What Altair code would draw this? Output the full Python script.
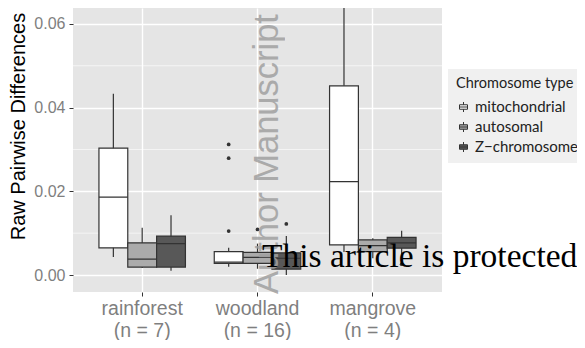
import altair as alt
import pandas as pd

categories = ["rainforest", "woodland", "mangrove"]
n_labels = ["(n = 7)", "(n = 16)", "(n = 4)"]
groups = ["mitochondrial", "autosomal", "Z\u2212chromosome"]
fills = ["#ffffff", "#ababab", "#585858"]

box_cat = ["rainforest"] * 3 + ["woodland"] * 3 + ["mangrove"] * 3
box_grp = groups * 3
whisk_lo = [0.0043, 0.0017, 0.0010, 0.0020, 0.0015, 0.0000, 0.0055, 0.0040, 0.0050]
q1 = [0.0065, 0.0019, 0.0019, 0.0028, 0.0028, 0.0014, 0.0072, 0.0056, 0.0064]
med = [0.0186, 0.0038, 0.0075, 0.0031, 0.0042, 0.0040, 0.0223, 0.0070, 0.0077]
q3 = [0.0303, 0.0077, 0.0093, 0.0056, 0.0054, 0.0053, 0.0452, 0.0084, 0.0090]
whisk_hi = [0.0433, 0.0113, 0.0143, 0.0065, 0.0075, 0.0093, 0.0700, 0.0088, 0.0106]

out_cat = ["woodland", "woodland", "woodland", "woodland", "woodland", "mangrove"]
out_grp = ["mitochondrial", "mitochondrial", "mitochondrial", "autosomal", "Z\u2212chromosome", "Z\u2212chromosome"]
out_val = [0.0312, 0.0279, 0.0105, 0.0109, 0.0122, 0.0026]

minor_ticks = [0.01, 0.03, 0.05]
major_ticks = [0.0, 0.02, 0.04, 0.06]

watermark = ["Author Manuscript"]
banner = ["This article is protected"]

lab = {c: c + "\n" + n for c, n in zip(categories, n_labels)}
x_order = [lab[c] for c in categories]

boxes = pd.DataFrame({
    "cat": [lab[c] for c in box_cat], "grp": box_grp,
    "lo": whisk_lo, "q1": q1, "med": med, "q3": q3, "hi": whisk_hi,
})
outs = pd.DataFrame({"cat": [lab[c] for c in out_cat], "grp": out_grp, "v": out_val})

ydom = [-0.00406, 0.0638]
yscale = alt.Scale(domain=ydom, nice=False, zero=False)
xscale = alt.Scale(type="band", domain=x_order, paddingInner=0.25, paddingOuter=0.225)
xoscale = alt.Scale(domain=groups, paddingInner=0, paddingOuter=0)

X = alt.X("cat:N", scale=xscale, sort=x_order, title=None,
          axis=alt.Axis(labelExpr="split(datum.label, '\\n')", labelAngle=0,
                        labelColor="#7f7f7f", labelFont="Liberation Sans", labelFontSize=19.5,
                        labelLineHeight=22, labelPadding=3, tickColor="#333333", tickSize=4,
                        domain=False, grid=True, gridColor="white", gridWidth=1.4))
XO = alt.XOffset("grp:N", scale=xoscale, sort=groups)

minor = alt.Chart(pd.DataFrame({"t": minor_ticks})).mark_rule(color="white", strokeWidth=0.6).encode(
    y=alt.Y("t:Q", scale=yscale)
)

whisk = alt.Chart(boxes).mark_rule(color="#333333", strokeWidth=1.2, clip=True).encode(
    x=X, xOffset=XO,
    y=alt.Y("lo:Q", scale=yscale,
            axis=alt.Axis(values=major_ticks, format=".2f", title="Raw Pairwise Differences",
                          labelColor="#7f7f7f", labelFont="Liberation Sans", labelFontSize=16,
                          labelPadding=4, tickColor="#333333", tickSize=4, domain=False,
                          grid=True, gridColor="white", gridWidth=1.4,
                          titleFont="Liberation Sans", titleFontSize=20, titleFontWeight="normal",
                          titleColor="black", titleAngle=270, titleX=-49, titleY=118,
                          titleAlign="center", titleBaseline="alphabetic")),
    y2="hi:Q",
)

box = alt.Chart(boxes).mark_bar(stroke="#333333", strokeWidth=1.2, clip=True).encode(
    x=X, xOffset=XO,
    y=alt.Y("q1:Q", scale=yscale), y2="q3:Q",
    fill=alt.Fill("grp:N", scale=alt.Scale(domain=groups, range=fills), sort=groups,
                  legend=alt.Legend(title="Chromosome type", orient="none", legendX=375, legendY=61,
                                    padding=8, fillColor="#f0f0f0", titleFont="Lato",
                                    titleFontSize=14.5, titleFontWeight="normal", titleColor="#222222",
                                    titlePadding=8, labelFont="Lato", labelFontSize=15,
                                    labelColor="#222222", rowPadding=4, labelOffset=4,
                                    symbolType="M-0.8,-0.45H0.8V0.45H-0.8Z M0,-0.45V-1 M0,0.45V1 M-0.8,0H0.8",
                                    symbolSize=100, symbolStrokeColor="#333333",
                                    symbolStrokeWidth=1, symbolOpacity=1)),
)

medline = alt.Chart(boxes).mark_bar(filled=False, stroke="#333333", strokeWidth=1.2, clip=True).encode(
    x=X, xOffset=XO,
    y=alt.Y("med:Q", scale=yscale), y2="med:Q",
)

pts = alt.Chart(outs).mark_circle(color="#333333", size=14, opacity=1).encode(
    x=X, xOffset=XO, y=alt.Y("v:Q", scale=yscale)
)

wm = alt.Chart(pd.DataFrame({"t": watermark})).mark_text(
    angle=270, align="left", baseline="alphabetic", font="Liberation Sans",
    fontSize=34.5, color="#a0a0a0", opacity=0.85
).encode(x=alt.value(205), y=alt.value(286), text="t:N")

bn = alt.Chart(pd.DataFrame({"t": banner})).mark_text(
    align="left", baseline="alphabetic", font="Liberation Serif", fontSize=33.5, color="black"
).encode(x=alt.value(189), y=alt.value(259), text="t:N")

chart = alt.layer(minor, whisk, box, medline, pts, wm, bn).properties(
    width=369, height=284,
    autosize=alt.AutoSizeParams(type="none"),
    padding={"left": 65, "top": 0, "right": 135, "bottom": 48},
).configure_view(fill="#e5e5e5", stroke=None)

chart.save("out.html", embed_options={"renderer": "svg", "actions": False})
